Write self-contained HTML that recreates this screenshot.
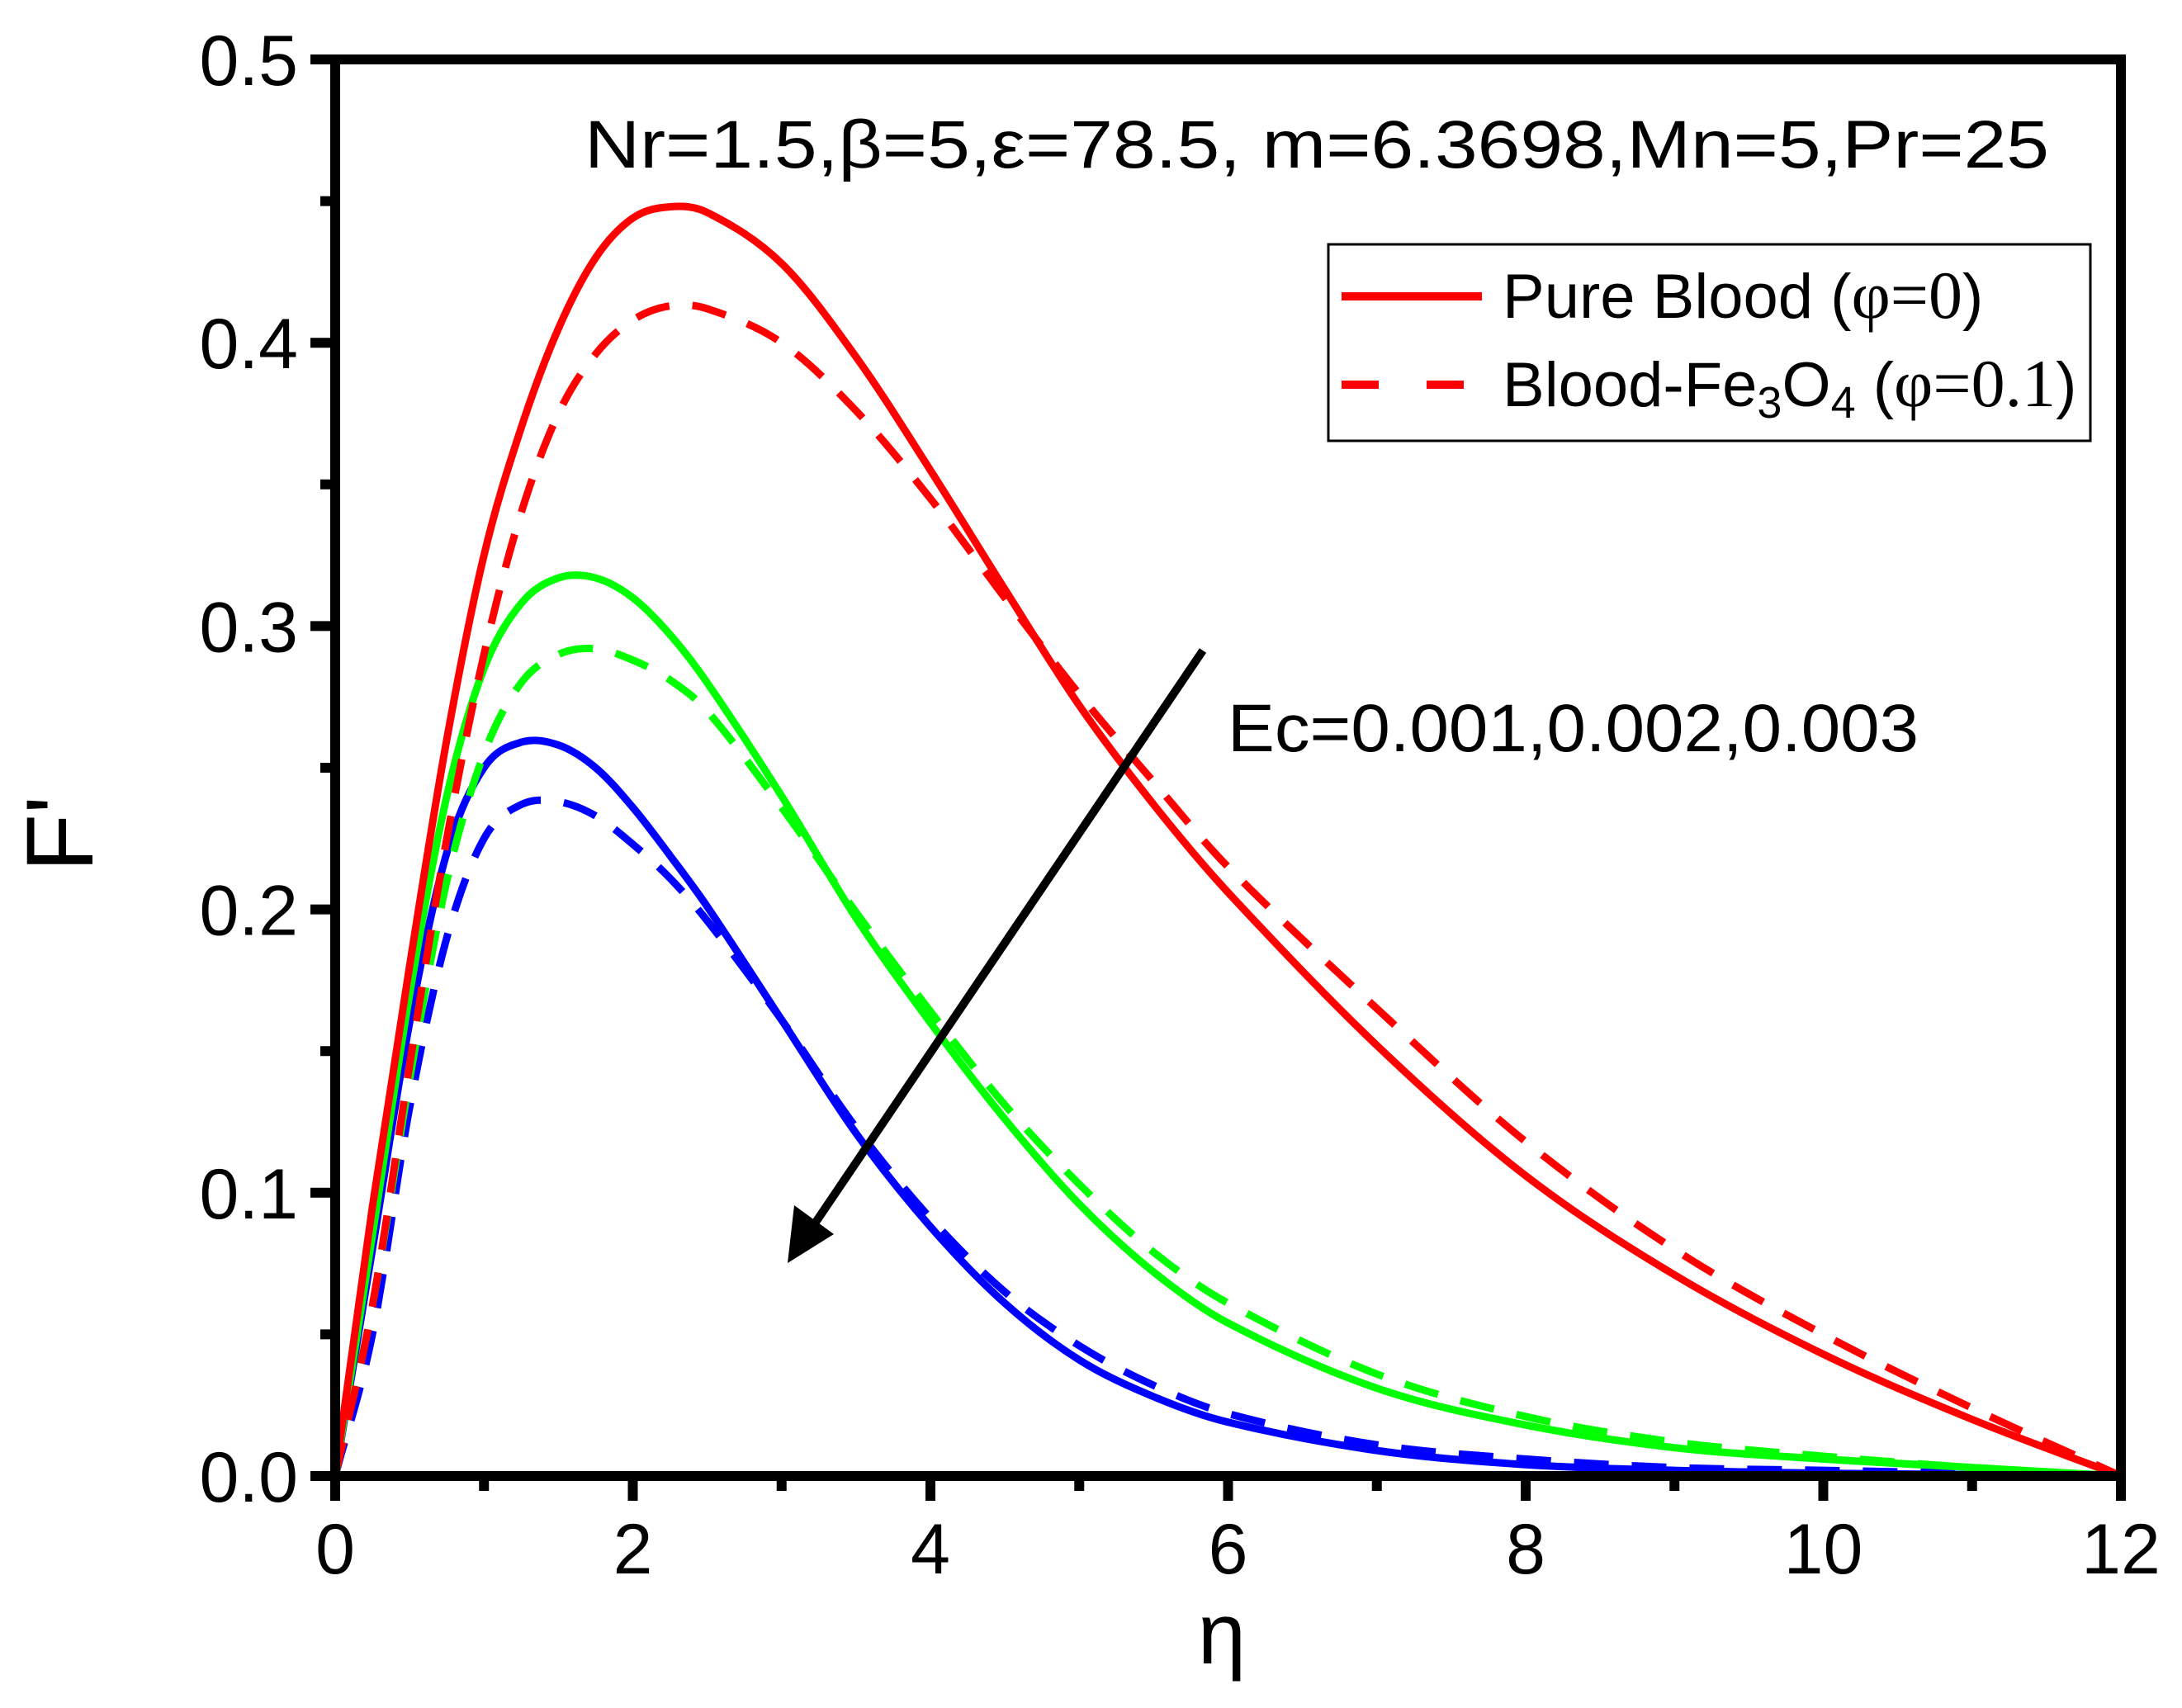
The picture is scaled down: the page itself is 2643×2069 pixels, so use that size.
<!DOCTYPE html>
<html><head><meta charset="utf-8"><style>
html,body{margin:0;padding:0;background:#fff;}
svg{display:block;font-family:"Liberation Sans",sans-serif;}
</style></head><body>
<svg id="chart" width="2643" height="2069" viewBox="0 0 2643 2069" xmlns="http://www.w3.org/2000/svg">
<rect width="2643" height="2069" fill="#fff"/>
<g id="plot"></g>
<g id="axes"></g>
<text x="708" y="203" font-size="82" textLength="1774" lengthAdjust="spacingAndGlyphs">Nr=1.5,β=5,ε=78.5, m=6.3698,Mn=5,Pr=25</text>
<text x="1487" y="910" font-size="82" textLength="837" lengthAdjust="spacingAndGlyphs">Ec=0.001,0.002,0.003</text>
<g>
<line x1="1457" y1="788" x2="985" y2="1485" stroke="#000" stroke-width="10"/>
<polygon points="954,1530 962,1460 1010,1495" fill="#000"/>
</g>
<g>
<rect x="1609" y="296" width="923" height="238" fill="#fff" stroke="#000" stroke-width="3"/>
<line x1="1625" y1="359" x2="1795" y2="359" stroke="#f00" stroke-width="10"/>
<text x="1820" y="385" font-size="76">Pure Blood (<tspan font-family="Liberation Serif" font-size="82">φ=0</tspan>)</text>
<line x1="1625" y1="466" x2="1795" y2="466" stroke="#f00" stroke-width="10" stroke-dasharray="45,58"/>
<text x="1820" y="492" font-size="76">Blood-Fe<tspan baseline-shift="-25%" font-size="54">3</tspan>O<tspan baseline-shift="-25%" font-size="54">4</tspan> (<tspan font-family="Liberation Serif" font-size="82">φ=0.1</tspan>)</text>
</g>
<text x="1480" y="2015" font-size="105" text-anchor="middle">η</text>
<text transform="translate(112,1010) rotate(-90)" font-size="115" text-anchor="middle">F'</text>
</svg>
<script>
const etaA=[0,0.25,0.5,0.75,1,1.25,1.5,1.75,2,2.25,2.5,3,3.5,4,4.5,5,5.5,6,7,8,9,10,11,12];
const redSolid=[0,0.095,0.18,0.26,0.325,0.37,0.405,0.43,0.444,0.448,0.446,0.428,0.395,0.355,0.313,0.272,0.237,0.206,0.152,0.106,0.071,0.043,0.02,0];
const redDash=[0,0.06,0.145,0.225,0.29,0.34,0.375,0.396,0.408,0.413,0.412,0.40,0.376,0.345,0.31,0.276,0.245,0.215,0.165,0.118,0.08,0.05,0.024,0];
const greenSolid=[0,0.085,0.17,0.24,0.285,0.308,0.317,0.317,0.31,0.297,0.28,0.24,0.197,0.16,0.126,0.096,0.072,0.054,0.031,0.018,0.01,0.006,0.003,0];
const greenDash=[0,0.06,0.14,0.21,0.255,0.28,0.29,0.292,0.288,0.281,0.27,0.236,0.199,0.164,0.131,0.103,0.079,0.061,0.036,0.021,0.012,0.007,0.003,0];
const blueSolid=[0,0.08,0.16,0.22,0.25,0.259,0.258,0.25,0.236,0.219,0.201,0.161,0.121,0.088,0.061,0.041,0.028,0.019,0.009,0.004,0.002,0.001,0.0005,0];
const blueDash=[0,0.05,0.13,0.19,0.225,0.237,0.238,0.233,0.223,0.211,0.196,0.161,0.123,0.091,0.065,0.046,0.032,0.022,0.011,0.006,0.003,0.002,0.001,0];
const xTicks=[0,2,4,6,8,10,12];
const yTicks=[0,0.1,0.2,0.3,0.4,0.5];
const yTickLabels=["0.0","0.1","0.2","0.3","0.4","0.5"];
const X0=406,X1=2569,Y0=1788,Y1=72;
function sx(v){return X0+(X1-X0)*v/12;}
function sy(v){return Y0-(Y0-Y1)*v/0.5;}
const NS="http://www.w3.org/2000/svg";
const plot=document.getElementById('plot'),axes=document.getElementById('axes');
function mk(tag,attrs,parent){const e=document.createElementNS(NS,tag);for(const k in attrs)e.setAttribute(k,attrs[k]);parent.appendChild(e);return e;}
function pathD(xs,ys){
 const p=xs.map((x,i)=>[sx(x),sy(ys[i])]);
 const n=p.length,m=[];
 for(let i=0;i<n;i++){
  const a=p[Math.max(0,i-1)],c=p[Math.min(n-1,i+1)];
  m.push((c[1]-a[1])/(c[0]-a[0]));
 }
 let d='M'+p[0][0]+','+p[0][1];
 for(let i=0;i<n-1;i++){
  const b=p[i],c=p[i+1],h=(c[0]-b[0])/3;
  d+=' C'+(b[0]+h)+','+(b[1]+m[i]*h)+' '+(c[0]-h)+','+(c[1]-m[i+1]*h)+' '+c[0]+','+c[1];
 }
 return d;
}
const series=[[blueDash,'#00f',true,'blue-dashed-line'],[blueSolid,'#00f',false,'blue-solid-line'],[greenDash,'#0f0',true,'green-dashed-line'],[greenSolid,'#0f0',false,'green-solid-line'],[redDash,'#f00',true,'red-dashed-line'],[redSolid,'#f00',false,'red-solid-line']];
series.forEach(s=>{
 const el=mk('path',{d:pathD(etaA,s[0]),fill:'none',stroke:s[1],'stroke-width':9},plot);
 if(s[2])el.setAttribute('stroke-dasharray','42,28');
 
 
});
const frame=mk('rect',{x:X0,y:Y1,width:X1-X0,height:Y0-Y1,fill:'none',stroke:'#000','stroke-width':12},axes);


for(let v=0;v<=12;v++){
 const major=v%2===0;
 const t=mk('line',{x1:sx(v),x2:sx(v),y1:Y0,y2:Y0+(major?30:18),stroke:'#000','stroke-width':12},axes);
 
 
}
xTicks.forEach(v=>{
 const t=mk('text',{x:sx(v),y:Y0+118,'font-size':86,'text-anchor':'middle'},axes);t.textContent=String(v);
 
 
});
for(let i=0;i<=10;i++){
 const v=i*0.05,major=i%2===0;
 const t=mk('line',{x1:X0,x2:X0-(major?30:18),y1:sy(v),y2:sy(v),stroke:'#000','stroke-width':12},axes);
 
 
}
yTicks.forEach((v,i)=>{
 const t=mk('text',{x:X0-45,y:sy(v)+31,'font-size':86,'text-anchor':'end'},axes);t.textContent=yTickLabels[i];
 
 
});
</script>
</body></html>
